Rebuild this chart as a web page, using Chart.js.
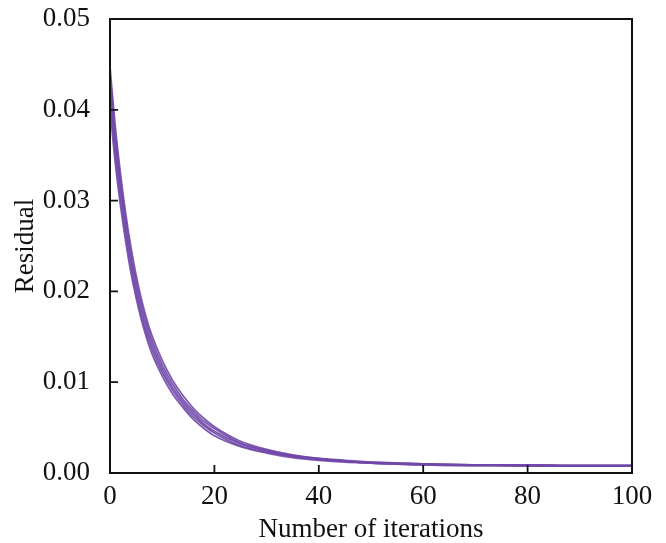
<!DOCTYPE html>
<html>
<head>
<meta charset="utf-8">
<script src="https://cdn.jsdelivr.net/npm/chart.js"></script>
<style>
  html, body { margin: 0; padding: 0; background: #fff; }
  #wrap { width: 666px; height: 543px; }
</style>
</head>
<body>
<div id="wrap"><canvas id="residualChart" width="666" height="543"></canvas></div>
<script>
// iterations sampled along the x axis
const iterations = [0, 1, 2, 3, 4, 5, 6, 7, 8, 10, 12, 14, 16, 18, 20, 25, 30, 35, 40, 45, 50, 60, 70, 80, 90, 100];

// residual curves (top to bottom)
const residualA = [0.0447, 0.0382, 0.0330, 0.0286, 0.0249, 0.0218, 0.0192, 0.0170, 0.0152, 0.0124, 0.0102, 0.0085, 0.0071, 0.0060, 0.0051, 0.0035, 0.0026, 0.0020, 0.0016, 0.0014, 0.0012, 0.0010, 0.0009, 0.0009, 0.0008, 0.0008];
const residualB = [0.0438, 0.0373, 0.0322, 0.0279, 0.0242, 0.0212, 0.0186, 0.0165, 0.0147, 0.0119, 0.0098, 0.0081, 0.0068, 0.0057, 0.0049, 0.0033, 0.0025, 0.0019, 0.0016, 0.0013, 0.0012, 0.0010, 0.0009, 0.0009, 0.0008, 0.0008];
const residualC = [0.0428, 0.0364, 0.0314, 0.0271, 0.0235, 0.0205, 0.0180, 0.0159, 0.0142, 0.0115, 0.0094, 0.0078, 0.0065, 0.0054, 0.0046, 0.0032, 0.0024, 0.0019, 0.0015, 0.0013, 0.0011, 0.0010, 0.0009, 0.0008, 0.0008, 0.0008];
const residualD = [0.0415, 0.0353, 0.0304, 0.0263, 0.0228, 0.0199, 0.0174, 0.0154, 0.0137, 0.0111, 0.0091, 0.0075, 0.0062, 0.0052, 0.0044, 0.0030, 0.0023, 0.0018, 0.0015, 0.0013, 0.0011, 0.0009, 0.0009, 0.0008, 0.0008, 0.0008];
const residualE = [0.0402, 0.0342, 0.0295, 0.0255, 0.0221, 0.0193, 0.0169, 0.0149, 0.0132, 0.0107, 0.0087, 0.0072, 0.0059, 0.0049, 0.0041, 0.0029, 0.0022, 0.0017, 0.0014, 0.0012, 0.0011, 0.0009, 0.0008, 0.0008, 0.0008, 0.0008];

// axis ticks
const xTicks = [0, 20, 40, 60, 80, 100];
const yTicks = [0, 0.01, 0.02, 0.03, 0.04, 0.05];

const curves = [residualA, residualB, residualC, residualD, residualE];
const lineColor = 'rgba(112, 72, 168, 0.9)';
const font = { family: '"Liberation Serif", "DejaVu Serif", serif', size: 27 };

// frame around the plot plus inward tick marks
const framePlugin = {
  id: 'frame',
  afterDraw(chart) {
    const { ctx, chartArea: a, scales } = chart;
    ctx.save();
    ctx.strokeStyle = '#111';
    ctx.lineWidth = 2;
    ctx.strokeRect(a.left, a.top, a.right - a.left, a.bottom - a.top);
    ctx.lineWidth = 1.8;
    ctx.beginPath();
    xTicks.forEach(v => {
      const px = scales.x.getPixelForValue(v);
      ctx.moveTo(px, a.bottom);
      ctx.lineTo(px, a.bottom - 8);
    });
    yTicks.forEach(v => {
      const py = scales.y.getPixelForValue(v);
      ctx.moveTo(a.left, py);
      ctx.lineTo(a.left + 8, py);
    });
    ctx.stroke();
    ctx.restore();
  }
};

new Chart(document.getElementById('residualChart').getContext('2d'), {
  type: 'line',
  data: {
    datasets: curves.map(c => ({
      data: iterations.map((x, i) => ({ x, y: c[i] })),
      borderColor: lineColor,
      borderWidth: 1.8,
      pointRadius: 0,
      fill: false,
      cubicInterpolationMode: 'monotone'
    }))
  },
  options: {
    responsive: false,
    animation: false,
    layout: { padding: { left: 0, top: 19, right: 34, bottom: 0 } },
    plugins: { legend: { display: false }, tooltip: { enabled: false } },
    scales: {
      x: {
        type: 'linear',
        min: 0,
        max: 100,
        afterFit: s => { s.height = 70; s.paddingLeft = 0; s.paddingRight = 0; },
        afterBuildTicks: s => { s.ticks = xTicks.map(v => ({ value: v })); },
        grid: { display: false },
        border: { display: false },
        ticks: { color: '#111', font, padding: 0, maxRotation: 0 },
        title: { display: true, text: 'Number of iterations', color: '#111', font, padding: { top: 4, bottom: -3 } }
      },
      y: {
        min: 0,
        max: 0.05,
        afterFit: s => { s.width = 110; s.paddingTop = 0; s.paddingBottom = 0; },
        afterBuildTicks: s => { s.ticks = yTicks.map(v => ({ value: v })); },
        grid: { display: false },
        border: { display: false },
        ticks: { color: '#111', font, padding: 12, callback: v => v.toFixed(2) },
        title: { display: true, text: 'Residual', color: '#111', font, padding: { top: 10, bottom: 0 } }
      }
    }
  },
  plugins: [framePlugin]
});
</script>
</body>
</html>
